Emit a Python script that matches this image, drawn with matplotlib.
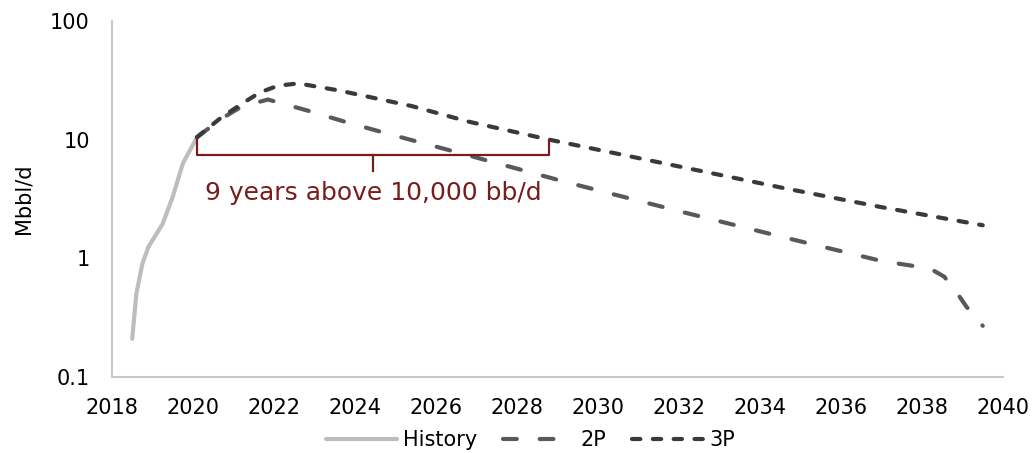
import matplotlib
matplotlib.use("Agg")
import matplotlib.pyplot as plt
import numpy as np

plt.rcParams['font.family'] = ['DejaVu Sans']

# production profiles, Mbbl/d
history_years = [2018.5, 2018.6, 2018.75, 2018.9, 2019.25, 2019.5, 2019.75, 2020.1]
history = [0.21, 0.5, 0.9, 1.25, 1.95, 3.3, 6.3, 10.5]

p2_years = [2020.1, 2020.7, 2021.2, 2021.85, 2022.8, 2023.8, 2024.7, 2025.6, 2026.6,
            2029.2, 2032.1, 2034.6, 2037.0, 2038.2, 2038.55, 2038.85, 2039.1, 2039.5]
p2 = [10.5, 15, 19, 21.8, 17.7, 14, 11.5, 9.5, 7.7,
      4.4, 2.45, 1.5, 0.95, 0.82, 0.7, 0.52, 0.39, 0.27]

p3_years = [2020.1, 2020.7, 2021.2, 2021.65, 2022.1, 2022.6, 2023.6, 2025.4, 2026.8,
            2028.8, 2032.1, 2034.6, 2037.0, 2039.5]
p3 = [10.5, 15.4, 20, 25, 28.5, 29.8, 26, 19.2, 14.2,
      10, 5.85, 3.9, 2.7, 1.9]

x_ticks = list(range(2018, 2041, 2))
y_ticks = [0.1, 1, 10, 100]
y_labels = ['0.1', '1', '10', '100']

# span above 10,000 bb/d
span_start, span_end = 2020.1, 2028.8
span_label = '9 years above 10,000 bb/d'

red = '#7a1c1c'

fig = plt.figure(figsize=(10.34, 4.53), dpi=100)
ax = fig.add_axes([0.1083, 0.1678, 0.8617, 0.7858])

ax.plot(history_years, history, color='#bdbdbd', lw=3, solid_capstyle='round', label='History')
ax.plot(p2_years, p2, color='#595959', lw=3, dash_capstyle='round',
        linestyle=(0, (3.3, 5.5)), label='2P')
ax.plot(p3_years, p3, color='#3a3a3a', lw=3, dash_capstyle='round',
        linestyle=(0, (2.0, 3.0)), label='3P')

ax.set_yscale('log')
ax.set_ylim(0.1, 100)
ax.set_xlim(2018, 2040)
ax.set_yticks(y_ticks)
ax.set_yticklabels(y_labels)
ax.yaxis.set_minor_locator(matplotlib.ticker.NullLocator())
ax.set_xticks(x_ticks)
ax.set_xticklabels([str(y) for y in x_ticks])
ax.tick_params(axis='x', length=0, labelsize=15, pad=15)
ax.tick_params(axis='y', length=0, labelsize=15, pad=16)
ax.set_ylabel('Mbbl/d', fontsize=15, labelpad=12)

for s in ['top', 'right']:
    ax.spines[s].set_visible(False)
for s in ['left', 'bottom']:
    ax.spines[s].set_color('#c8c8c8')
    ax.spines[s].set_linewidth(1.5)

# bracket under the plateau
mid = (span_start + span_end) / 2
y_top, y_bar, y_tip = 10, 7.4, 5.4
ax.plot([span_start, span_start, span_end, span_end], [y_top, y_bar, y_bar, y_top],
        color=red, lw=1.6)
ax.plot([mid, mid], [y_bar, y_tip], color=red, lw=1.6)
ax.text(mid, 3.55, span_label, color=red, fontsize=18, ha='center', va='center')

fig.legend(loc='center', bbox_to_anchor=(0.513, 0.028), ncol=3, frameon=False,
           fontsize=15, handlelength=3.4, columnspacing=1.25, handletextpad=0.3,
           borderpad=0)

fig.savefig('out.png', dpi=100)
